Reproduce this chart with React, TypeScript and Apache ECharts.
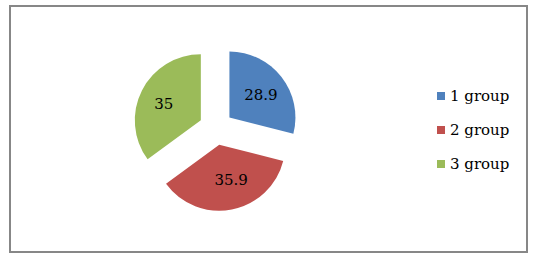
import React, { useEffect, useRef } from "react";
import * as echarts from "echarts";

const categories = ["1 group", "2 group", "3 group"];
const values = [28.9, 35.9, 35];
const colors = ["#4F81BD", "#C0504D", "#9BBB59"];
const labelPads = [
  [8, 0, 0, 6],
  [22, 0, 0, 10],
  [0, 10, 20, 0],
];

export default function App() {
  const ref = useRef<HTMLDivElement>(null);
  useEffect(() => {
    if (!ref.current) return;
    const chart = echarts.init(ref.current, null, { renderer: "svg" });
    const font = "DejaVu Serif";
    chart.setOption({
      animation: false,
      backgroundColor: "#ffffff",
      color: colors,
      graphic: [
        {
          type: "rect",
          shape: { x: 10, y: 6, width: 517, height: 246 },
          style: { fill: "none", stroke: "#878787", lineWidth: 2 },
          silent: true,
        },
      ],
      legend: {
        orient: "vertical",
        left: 432,
        top: 81,
        itemWidth: 8,
        itemHeight: 8,
        itemGap: 14,
        itemTextGap: 4,
        icon: "rect",
        selectedMode: false,
        textStyle: { fontFamily: font, fontSize: 15, lineHeight: 20, color: "#000" },
        data: categories,
      },
      series: [
        {
          type: "pie",
          center: [216, 128],
          radius: [0, 66],
          startAngle: 90,
          clockwise: true,
          selectedMode: "multiple",
          selectedOffset: 17,
          avoidLabelOverlap: false,
          emphasis: { disabled: true },
          label: {
            show: true,
            position: "inside",
            formatter: "{c}",
            fontFamily: font,
            fontSize: 15,
            color: "#000",
          },
          labelLine: { show: false },
          itemStyle: { borderWidth: 0 },
          data: categories.map((name, i) => ({
            name,
            value: values[i],
            selected: true,
            label: { padding: labelPads[i] },
          })),
        },
      ],
    });
    return () => chart.dispose();
  }, []);
  return (
    <div
      ref={ref}
      style={{ position: "absolute", left: 0, top: 0, width: 537, height: 261 }}
    />
  );
}
